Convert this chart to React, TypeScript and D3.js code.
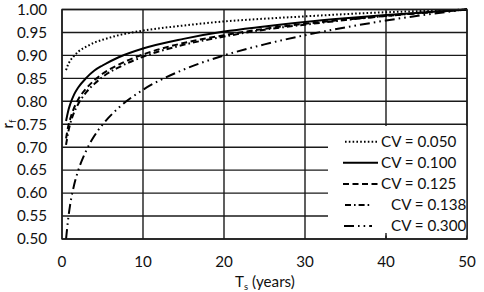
import React from "react";
import * as d3 from "d3";

const ts = [0.5, 0.75, 1, 1.5, 2, 3, 4, 5, 7, 10, 15, 20, 25, 30, 35, 40, 45, 50];
const cv050 = [0.868, 0.880, 0.888, 0.899, 0.908, 0.919, 0.928, 0.934, 0.944, 0.954, 0.965, 0.974, 0.980, 0.985, 0.990, 0.994, 0.997, 1.0];
const cv100 = [0.757, 0.778, 0.793, 0.815, 0.830, 0.851, 0.867, 0.878, 0.896, 0.915, 0.936, 0.952, 0.963, 0.973, 0.981, 0.988, 0.994, 1.0];
const cv125 = [0.719, 0.744, 0.761, 0.786, 0.804, 0.828, 0.846, 0.860, 0.880, 0.902, 0.927, 0.944, 0.958, 0.969, 0.978, 0.986, 0.994, 1.0];
const cv138 = [0.705, 0.731, 0.750, 0.776, 0.794, 0.820, 0.838, 0.853, 0.874, 0.897, 0.923, 0.941, 0.956, 0.967, 0.977, 0.986, 0.993, 1.0];
const cv300 = [0.500, 0.542, 0.574, 0.618, 0.649, 0.693, 0.725, 0.749, 0.786, 0.825, 0.869, 0.900, 0.924, 0.944, 0.961, 0.976, 0.989, 1.0];

const seriesLabels = ["CV = 0.050", "CV = 0.100", "CV = 0.125", "CV = 0.138", "CV = 0.300"];
const xTicks = [0, 10, 20, 30, 40, 50];
const yTicks = [0.5, 0.55, 0.6, 0.65, 0.7, 0.75, 0.8, 0.85, 0.9, 0.95, 1.0];

const W = 484, H = 292;
const left = 62, right = 467, top = 9.5, bottom = 239;
const FONT = "Lato, 'Open Sans', sans-serif";
const FS = 15.2;

export default function App() {
  const x = d3.scaleLinear().domain([0, 50]).range([left, right]);
  const y = d3.scaleLinear().domain([0.5, 1.0]).range([bottom, top]);
  const allSeries = [cv050, cv100, cv125, cv138, cv300];
  const dashes = ["1.6,2.2", "none", "6,3.5", "6,3,1.6,3", "10,4,1.6,4,1.6,4"];
  const line = d3
    .line<number>()
    .x((_, i) => x(ts[i]))
    .y((d) => y(d))
    .curve(d3.curveMonotoneX);

  const legX = 328, legTop = 126, legBottom = 237;
  const legY0 = 141.7, legStep = 21.1;
  const legLine: [number, number][] = [
    [345, 377],
    [343, 378],
    [343, 378],
    [345, 371],
    [344, 372],
  ];
  const legTextX = [381, 381, 381, 391, 391];

  return (
    <svg
      width={W}
      height={H}
      style={{ position: "absolute", left: 0, top: 0, background: "#fff" }}
      fontFamily={FONT}
    >
      <rect x={0} y={0} width={W} height={H} fill="#fff" />
      {yTicks.map((t) => (
        <line key={"gy" + t} x1={left} x2={right} y1={y(t)} y2={y(t)} stroke="#1a1a1a" strokeWidth={1.4} />
      ))}
      {xTicks.map((t) => (
        <line key={"gx" + t} x1={x(t)} x2={x(t)} y1={top} y2={bottom} stroke="#1a1a1a" strokeWidth={1.4} />
      ))}
      {allSeries.map((s, i) => (
        <path
          key={"s" + i}
          d={line(s) || ""}
          fill="none"
          stroke="#000"
          strokeWidth={2}
          strokeDasharray={dashes[i]}
        />
      ))}
      <rect x={legX} y={legTop} width={right - legX} height={legBottom - legTop - 1.5} fill="#fff" />
      <line x1={x(40)} x2={x(40)} y1={legBottom - 4} y2={bottom} stroke="#1a1a1a" strokeWidth={1.4} />
      {seriesLabels.map((lab, i) => {
        const cy = legY0 + i * legStep;
        return (
          <g key={"l" + i}>
            <line
              x1={legLine[i][0]}
              x2={legLine[i][1]}
              y1={cy}
              y2={cy}
              stroke="#000"
              strokeWidth={2}
              strokeDasharray={dashes[i]}
            />
            <text x={legTextX[i]} y={cy} dy="0.35em" fontSize={FS} fill="#111">
              {lab}
            </text>
          </g>
        );
      })}
      <rect x={left} y={top} width={right - left} height={bottom - top} fill="none" stroke="#1a1a1a" strokeWidth={1.4} />
      {yTicks.map((t) => (
        <text key={"ty" + t} x={47} y={y(t)} dy="0.35em" textAnchor="end" fontSize={FS} fill="#111">
          {t.toFixed(2)}
        </text>
      ))}
      {xTicks.map((t) => (
        <text key={"tx" + t} x={x(t)} y={261.5} dy="0.35em" textAnchor="middle" fontSize={FS} fill="#111">
          {t}
        </text>
      ))}
      <text x={265} y={281.5} dy="0.35em" textAnchor="middle" fontSize={FS} fill="#111">
        T<tspan fontSize={9.5} dy="3">s</tspan>
        <tspan dy="-3"> (years)</tspan>
      </text>
      <text
        transform={`translate(13,124) rotate(-90)`}
        textAnchor="middle"
        fontSize={FS}
        fill="#111"
      >
        r<tspan fontSize={9.5} dy="3">f</tspan>
      </text>
    </svg>
  );
}
